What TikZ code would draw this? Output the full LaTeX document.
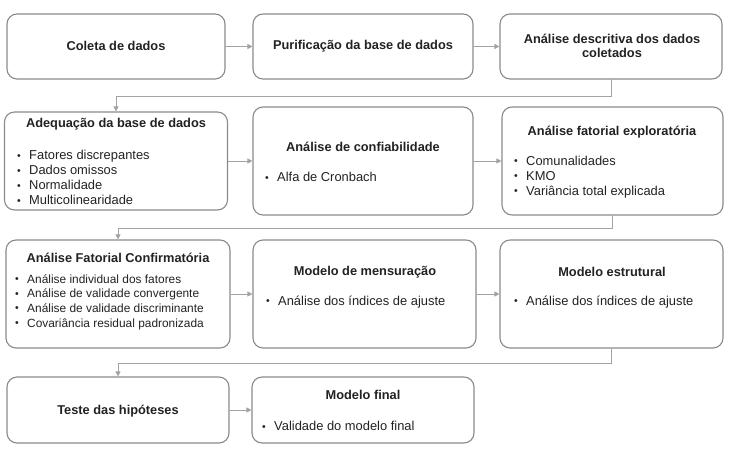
\documentclass[tikz,border=0pt]{standalone}
\usepackage{fontspec}
\setmainfont{Liberation Sans}
\usetikzlibrary{arrows.meta}
\definecolor{boxline}{HTML}{8A8A8A}
\definecolor{linkgray}{HTML}{A3A3A3}
\definecolor{txtgray}{HTML}{222222}
% small bullet in front of each list entry
\newcommand{\bul}{\makebox[12pt][l]{\raisebox{0.5pt}{\fontsize{10.5}{10}\selectfont\textbullet}}}

\begin{document}
\begin{tikzpicture}[x=1pt, y=-1pt,
    stage/.style={draw=boxline, line width=1.1pt, rounded corners=10pt, inner sep=0pt},
    title/.style={font=\bfseries\fontsize{12.8}{14}\selectfont, text=txtgray, align=center, inner sep=0pt},
    items/.style={font=\fontsize{12.9}{15}\selectfont, text=txtgray, align=left, anchor=west, inner sep=0pt},
    link/.style={draw=linkgray, line width=1pt, -{Triangle[length=5pt, width=5pt]}}]
    \useasboundingbox (0,0) rectangle (730,455);

    % first row
    \node[stage, minimum width=218pt, minimum height=65pt] (coleta) at (116,46.5) {};
    \node[stage, minimum width=220pt, minimum height=65pt] (purif) at (363,46.5) {};
    \node[stage, minimum width=222pt, minimum height=65pt] (descr) at (611,46.5) {};
    \node[title] (t1) at (116,46) {Coleta de dados};
    \node[title] (t2) at (363,46) {Purificação da base de dados};
    \node[title] (t3) at (612,46) {Análise descritiva dos dados\\coletados};

    % second row
    \node[stage, minimum width=223pt, minimum height=98pt] (adeq) at (116,161) {};
    \node[stage, minimum width=220pt, minimum height=108pt] (conf) at (363,161) {};
    \node[stage, minimum width=221pt, minimum height=108pt] (afe) at (612.5,161) {};
    \node[title] (t4) at (116,124) {Adequação da base de dados};
    \node[title] (t5) at (363,147) {Análise de confiabilidade};
    \node[title] (t6) at (612,132) {Análise fatorial exploratória};
    \node[items] (l4) at (17,177.5) {\bul Fatores discrepantes\\\bul Dados omissos\\\bul Normalidade\\\bul Multicolinearidade};
    \node[items] (l5) at (265,177) {\bul Alfa de Cronbach};
    \node[items] (l6) at (514,177) {\bul Comunalidades\\\bul KMO\\\bul Variância total explicada};

    % third row
    \node[stage, minimum width=224pt, minimum height=108pt] (afc) at (118,294) {};
    \node[stage, minimum width=223pt, minimum height=108pt] (mens) at (364.5,294) {};
    \node[stage, minimum width=223pt, minimum height=108pt] (estr) at (611.5,294) {};
    \node[title] (t7) at (118,258) {Análise Fatorial Confirmatória};
    \node[title] (t8) at (365,272) {Modelo de mensuração};
    \node[title] (t9) at (612,272) {Modelo estrutural};
    \node[items, font=\fontsize{11.9}{14.6}\selectfont] (l7) at (15,302) {\bul Análise individual dos fatores\\\bul Análise de validade convergente\\\bul Análise de validade discriminante\\\bul Covariância residual padronizada};
    \node[items] (l8) at (266,302) {\bul Análise dos índices de ajuste};
    \node[items] (l9) at (514,302) {\bul Análise dos índices de ajuste};

    % last row
    \node[stage, minimum width=222pt, minimum height=66pt] (teste) at (118,410) {};
    \node[stage, minimum width=222pt, minimum height=66pt] (final) at (363,410) {};
    \node[title] (t10) at (118,411) {Teste das hipóteses};
    \node[title] (t11) at (363,395) {Modelo final};
    \node[items] (l11) at (262,426) {\bul Validade do modelo final};

    % connectors
    \draw[link] (coleta) -- (purif);
    \draw[link] (purif) -- (descr);
    \draw[link] (descr.south) -- ++(0,17) -| (adeq.north);
    \draw[link] (adeq) -- (conf);
    \draw[link] (conf) -- (afe);
    \draw[link] (afe.south) -- ++(0,13) -| (afc.north);
    \draw[link] (afc) -- (mens);
    \draw[link] (mens) -- (estr);
    \draw[link] (estr.south) -- ++(0,15) -| (teste.north);
    \draw[link] (teste) -- (final);
\end{tikzpicture}
\end{document}
